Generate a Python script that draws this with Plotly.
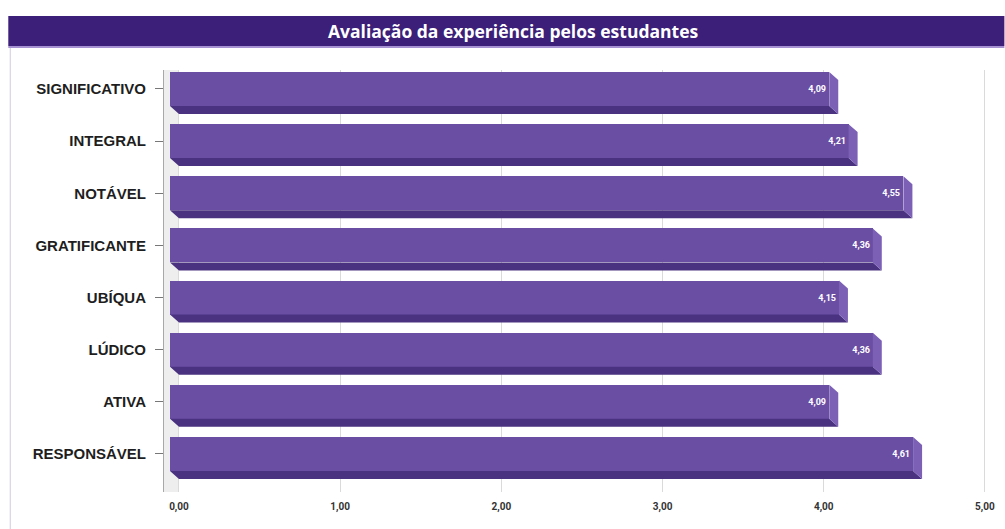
import plotly.graph_objects as go

# Student ratings per attribute (scale 0-5), listed top to bottom
categories = ["SIGNIFICATIVO", "INTEGRAL", "NOTÁVEL", "GRATIFICANTE",
              "UBÍQUA", "LÚDICO", "ATIVA", "RESPONSÁVEL"]
values = [4.09, 4.21, 4.55, 4.36, 4.15, 4.36, 4.09, 4.61]
x_ticks = [0, 1, 2, 3, 4, 5]
title_text = "Avaliação da experiência pelos estudantes"

# Page geometry (pixels) and 3D bar styling
W, H = 1005, 529
L, R, T, B = 164, 10.4, 70, 37
X_MIN, X_MAX = -0.0929, 5.05
Y_TOP, Y_BOT = -0.364, 7.729
HALF = 0.326          # half thickness of the front face (category units)
DEPTH_X = 0.0557      # extrusion depth along x (data units)
DEPTH_Y = 0.153       # extrusion depth along y (category units)

FRONT = "#6a4ea4"
BOTTOM = "#4a3280"
SIDE = "#7b60b6"

pos = list(range(len(categories)))
labels = [f"{v:.2f}".replace(".", ",") for v in values]

# Lower face and right face of each extruded bar
bx, by, sx, sy = [], [], [], []
for i, v in zip(pos, values):
    bx += [-DEPTH_X, v - DEPTH_X, v, 0, -DEPTH_X, None]
    by += [i + HALF, i + HALF, i + HALF + DEPTH_Y, i + HALF + DEPTH_Y, i + HALF, None]
    sx += [v - DEPTH_X, v, v, v - DEPTH_X, v - DEPTH_X, None]
    sy += [i - HALF, i - HALF + DEPTH_Y, i + HALF + DEPTH_Y, i + HALF, i - HALF, None]

fig = go.Figure()
fig.add_trace(go.Scatter(x=bx, y=by, mode="lines", fill="toself",
                         fillcolor=BOTTOM, line=dict(width=0, color=BOTTOM),
                         hoverinfo="skip", showlegend=False))
fig.add_trace(go.Scatter(x=sx, y=sy, mode="lines", fill="toself",
                         fillcolor=SIDE, line=dict(width=0, color=SIDE),
                         hoverinfo="skip", showlegend=False))
fig.add_trace(go.Bar(
    y=pos, x=values, base=-DEPTH_X, orientation="h", width=2 * HALF,
    marker=dict(color=FRONT, line=dict(width=0)),
    text=labels, textposition="inside", insidetextanchor="end",
    textfont=dict(color="white", size=9, family="Roboto", weight=700),
    cliponaxis=False, showlegend=False,
))

pw = W - L - R
ph = H - T - B


def px(xp):
    return (xp - L) / pw


def py(yp):
    return (H - B - yp) / ph


shapes = [
    # side wall left of the zero line
    dict(type="rect", xref="x", yref="paper", x0=X_MIN, x1=0, y0=0, y1=1,
         fillcolor="#eeeeee", line=dict(width=0), layer="below"),
    # header band
    dict(type="rect", xref="paper", yref="paper", x0=px(8), x1=px(1006),
         y0=py(46), y1=py(16), fillcolor="#3b1f78", line=dict(width=0)),
    dict(type="rect", xref="paper", yref="paper", x0=px(8), x1=px(1006),
         y0=py(48), y1=py(46), fillcolor="#a692d2", line=dict(width=0)),
    # frame line on the left
    dict(type="line", xref="paper", yref="paper", x0=px(10), x1=px(10),
         y0=py(48), y1=py(530), line=dict(color="#d8d4e4", width=1.2)),
]

fig.update_layout(
    width=W, height=H,
    margin=dict(l=L, r=R, t=T, b=B, pad=0),
    paper_bgcolor="white", plot_bgcolor="white",
    separators=",.",
    bargap=0,
    shapes=shapes,
    annotations=[dict(
        text=title_text, xref="paper", yref="paper",
        x=px(514), y=py(31), xanchor="center", yanchor="middle",
        showarrow=False,
        font=dict(family="Open Sans", size=17.5, color="white", weight=700),
    )],
    xaxis=dict(
        range=[X_MIN, X_MAX], tickvals=x_ticks, tickformat=".2f",
        showgrid=True, gridcolor="#dadada", gridwidth=1,
        zeroline=False, showline=False, ticks="",
        ticklabelstandoff=7,
        tickfont=dict(family="Roboto", size=10, color="#333333", weight=700),
        fixedrange=True,
    ),
    yaxis=dict(
        range=[Y_BOT, Y_TOP], tickvals=pos, ticktext=categories,
        showgrid=False, zeroline=False,
        showline=True, linecolor="#a8a8a8", linewidth=1,
        ticks="outside", ticklen=8, tickcolor="#777777",
        ticklabelstandoff=6, automargin=False,
        tickfont=dict(family="Liberation Sans", size=15, color="#1e1e1e", weight=700),
        fixedrange=True,
    ),
)

fig.write_html("out.html")
